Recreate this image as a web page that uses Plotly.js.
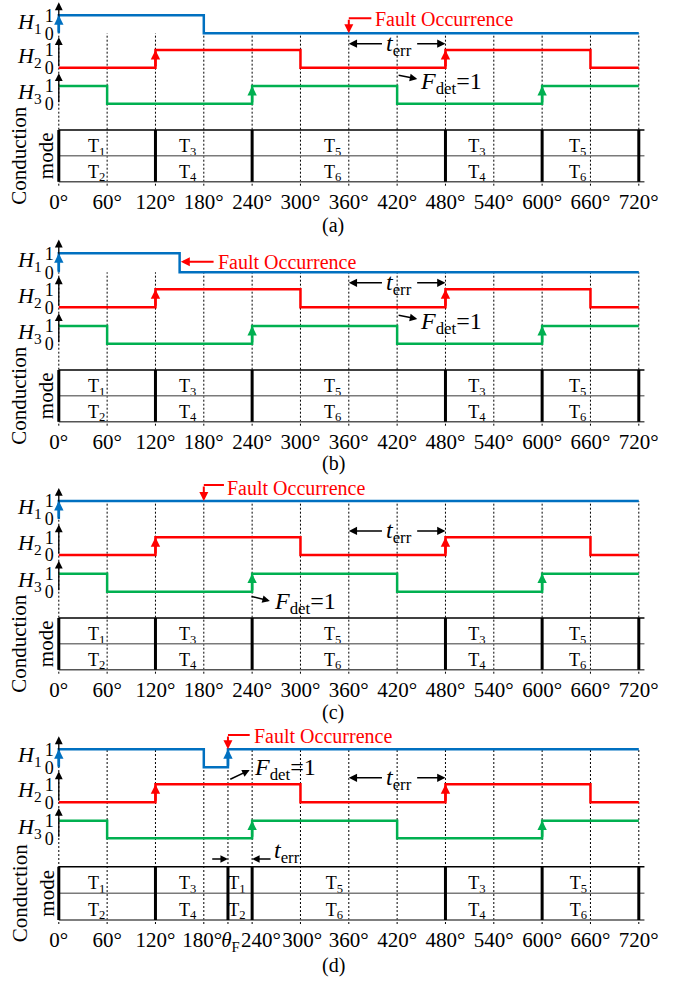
<!DOCTYPE html>
<html><head><meta charset="utf-8">
<script src="https://cdn.plot.ly/plotly-3.0.1.min.js"></script>
<style>html,body{margin:0;padding:0;background:#fff}#chart{width:688px;height:985px}</style>
</head><body><div id="chart"></div>
<script>
// ---------------- data ----------------
const tickAngles = [0,60,120,180,240,300,360,420,480,540,600,660,720];
const tickLabels = ['0°','60°','120°','180°','240°','300°','360°','420°','480°','540°','600°','660°','720°'];
const thetaF = 210;
const thetaFLabel = '<i>θ</i><sub>F</sub>';
const panelNames = ['(a)','(b)','(c)','(d)'];
const faultAngles = [360,150,180,210];

const h1X = [[0,0,180,720],[0,0,150,720],[0,0,720],[0,0,180,210,720]];
const h1Y = [[0,1,0,0],[0,1,0,0],[0,1,1],[0,1,0,1,1]];
const h2X = [0,120,300,480,660,720];
const h2Y = [0,1,0,1,0,0];
const h3X = [0,60,240,420,600,720];
const h3Y = [1,0,1,0,1,1];
const h1Rises = [[0],[0],[0],[0,210]];
const h2Rises = [120,480];
const h3Rises = [240,600];
const terrStart = 360, terrEnd = 480;

const modeBounds = [[0,120,240,480,600,720],[0,120,240,480,600,720],[0,120,240,480,600,720],[0,120,210,240,480,600,720]];
const modeUpper = [['1','3','5','3','5'],['1','3','5','3','5'],['1','3','5','3','5'],['1','3','1','5','3','5']];
const modeLower = [['2','4','6','4','6'],['2','4','6','4','6'],['2','4','6','4','6'],['2','4','2','6','4','6']];
const modeLabelAngle = [[47,160,340,519,644],[47,160,340,519,644],[47,160,340,519,644],[47,160,221,342,519,645]];

// ---------------- styling / geometry ----------------
const W = 688, H = 985;
const serif = 'Liberation Serif';
const cols = ['#0070C0','#FF0000','#00B050'];
const X0 = 58.8, K = 580/720;
const xr = [-5, 728];
const xDom = [(X0 + xr[0]*K)/W, (X0 + xr[1]*K)/W];
// label placement tweak for crowded ticks of panel (d) (degrees)
const dLabelShift = {180:-2, 210:3, 240:11, 300:2};
const geom = [
  {h:[[15.3,33.3],[50,67.7],[86,103.7]], tbl:[130,181.7], gridTop:33.3, lab:225},
  {h:[[253.3,272.3],[289.3,307.3],[326,343.7]], tbl:[370,421.7], gridTop:272.3, lab:463},
  {h:[[501,519],[537.3,555],[573.7,591.7]], tbl:[618,669.7], gridTop:501, lab:712},
  {h:[[749.3,767.3],[784.3,802.3],[820.7,838.3]], tbl:[866.7,920], gridTop:749.3, lab:965}
];
const faultCfg = [
  {type:'bent', yLine:0.83, headY:0, lineEnd:388, textX:390, textY:0.8},
  {type:'left', yLine:0.56, tail:194, textX:195.5, textY:0.56},
  {type:'bent', yLine:1.89, headY:1, lineEnd:205, textX:206.5, textY:1.72},
  {type:'bent', yLine:1.79, headY:1, lineEnd:237, textX:239.5, textY:1.74}
];
const fdetCfg = [
  {ax:3, tail:[420,1.62], head:[445,1.40], text:[446,1.15]},
  {ax:3, tail:[420,1.62], head:[445,1.40], text:[446,1.15]},
  {ax:3, tail:[237.4,-0.24], head:[262,-0.52], text:[264.5,-0.64]},
  {ax:2, tail:[211,1.24], head:[237,1.79], text:[239.5,1.85]}
];

function xa(p){return p===0?'x':'x'+(p+1);}
function ya(n){return n===1?'y':'y'+n;}
function axKey(id){return id[0]+'axis'+id.slice(1);}
function fy(px){return 1-px/H;}

const traces = [];
const layout = {width:W, height:H, margin:{l:0,r:0,t:0,b:0}, paper_bgcolor:'#fff',
  plot_bgcolor:'rgba(0,0,0,0)', showlegend:false, font:{family:serif,color:'#000'},
  shapes:[], annotations:[]};

function arrow(xref,yref,x,y,ax,ay,color,width,size){
  layout.annotations.push({xref:xref,yref:yref,axref:xref,ayref:yref,x:x,y:y,ax:ax,ay:ay,
    text:'',showarrow:true,arrowhead:2,arrowsize:size,arrowwidth:width,arrowcolor:color,standoff:0,startstandoff:0});
}
function label(xref,yref,x,y,text,size,color,xanchor,extra){
  layout.annotations.push(Object.assign({xref:xref,yref:yref,x:x,y:y,text:text,showarrow:false,
    xanchor:xanchor||'center',yanchor:'middle',font:{family:serif,size:size,color:color||'#000'}},extra||{}));
}

for(let p=0;p<4;p++){
  const g = geom[p];
  const xid = xa(p);
  const hy = [];
  for(let k=0;k<3;k++){
    const p1=g.h[k][0], p0=g.h[k][1], u=p0-p1;
    const top=Math.max(0.5,p1-1.2*u), bot=p0+0.9*u;
    const id=ya(4*p+k+1); hy.push(id);
    layout[axKey(id)] = {domain:[fy(bot),fy(top)], range:[(p0-bot)/u,(p0-top)/u], anchor:xid,
      tickvals:[0,1], ticktext:['0','1'], tickfont:{family:serif,size:18,color:'#000'}, ticks:'',
      showgrid:false, zeroline:false, showline:false, fixedrange:true};
  }
  const tt=g.tbl[0], tb=g.tbl[1], tu=(tb-tt)/2;
  const tid=ya(4*p+4);
  layout[axKey(tid)] = {domain:[fy(tb+0.2*tu),fy(tt-0.8*tu)], range:[-0.2,2.8], anchor:xid,
    showticklabels:false, ticks:'', showgrid:false, zeroline:false, showline:false, fixedrange:true};
  let tv = tickAngles.slice(), tx = tickLabels.slice();
  if(p===3){
    tv.splice(4,0,thetaF); tx.splice(4,0,thetaFLabel);
    tv = tv.map(a=>a+(dLabelShift[a]||0));
  }
  layout[axKey(xid)] = {domain:xDom, range:xr, anchor:tid, tickvals:tv, ticktext:tx, tickangle:0,
    tickfont:{family:serif,size:21,color:'#000'}, ticks:'', showgrid:false, zeroline:false, showline:false, fixedrange:true};

  // grid lines
  tickAngles.forEach(a=>layout.shapes.push({type:'line',layer:'below',xref:xid,yref:'paper',x0:a,x1:a,
    y0:fy(tb+4),y1:fy(g.gridTop),line:{color:'#000',width:1,dash:'2px,2px'}}));
  if(p===3) layout.shapes.push({type:'line',layer:'below',xref:xid,yref:'paper',x0:thetaF,x1:thetaF,
    y0:fy(tb+4),y1:fy(g.h[0][1]+2),line:{color:'#000',width:1,dash:'2px,2px'}});

  // signals
  const sx=[h1X[p],h2X,h3X], sy=[h1Y[p],h2Y,h3Y];
  for(let k=0;k<3;k++){
    traces.push({type:'scatter',mode:'lines',x:sx[k],y:sy[k],xaxis:xid,yaxis:hy[k],
      line:{color:cols[k],width:2.5,shape:'hv'},hoverinfo:'skip'});
  }
  for(let k=0;k<3;k++){
    arrow(xid,hy[k],0,1.72,0,0,'#000',1.3,1.2);
    label('paper',hy[k],44/W,0.6,'<i>H</i><sub>'+(k+1)+'</sub>',22,'#000','right');
  }
  h1Rises[p].forEach(a=>arrow(xid,hy[0],a,1,a,0,cols[0],2.5,0.75));
  h2Rises.forEach(a=>arrow(xid,hy[1],a,1,a,0,cols[1],2.5,0.75));
  h3Rises.forEach(a=>arrow(xid,hy[2],a,1,a,0,cols[2],2.5,0.75));

  // fault occurrence
  const fc=faultCfg[p], fa=faultAngles[p];
  if(fc.type==='bent'){
    layout.shapes.push({type:'line',xref:xid,yref:hy[0],x0:fa,x1:fc.lineEnd,y0:fc.yLine,y1:fc.yLine,line:{color:cols[1],width:2}});
    arrow(xid,hy[0],fa,fc.headY,fa,fc.yLine,cols[1],2,0.9);
  } else {
    arrow(xid,hy[0],fa+1.5,fc.yLine,fc.tail,fc.yLine,cols[1],2,0.9);
  }
  label(xid,hy[0],fc.textX,fc.textY,'Fault Occurrence',20,cols[1],'left');

  // t_err
  const ty=1.36;
  arrow(xid,hy[1],terrStart,ty,403,ty,'#000',1.5,1.1);
  arrow(xid,hy[1],terrEnd,ty,443,ty,'#000',1.5,1.1);
  label(xid,hy[1],422,1.3,'<i>t</i><sub>err</sub>',24,'#000','center');

  // F_det = 1
  const fd=fdetCfg[p];
  arrow(xid,hy[fd.ax-1],fd.head[0],fd.head[1],fd.tail[0],fd.tail[1],'#000',1.5,1.0);
  label(xid,hy[fd.ax-1],fd.text[0],fd.text[1],'<i>F</i><sub>det</sub>=1',24,'#000','left');

  // conduction mode table
  const mb=modeBounds[p];
  layout.shapes.push({type:'line',xref:xid,yref:tid,x0:0,x1:727,y0:2,y1:2,line:{color:'#000',width:1.5}});
  layout.shapes.push({type:'line',xref:xid,yref:tid,x0:0,x1:727,y0:1,y1:1,line:{color:'#7a7a7a',width:1.5}});
  layout.shapes.push({type:'line',xref:xid,yref:tid,x0:0,x1:727,y0:0,y1:0,line:{color:'#555',width:1.5}});
  mb.forEach(a=>layout.shapes.push({type:'line',xref:xid,yref:tid,x0:a,x1:a,y0:0,y1:2,line:{color:'#000',width:3}}));
  const lx=modeLabelAngle[p];
  traces.push({type:'scatter',mode:'text',xaxis:xid,yaxis:tid,
    x:lx.concat(lx), y:lx.map(()=>1.33).concat(lx.map(()=>0.33)),
    text:modeUpper[p].map(n=>'T<sub>'+n+'</sub>').concat(modeLower[p].map(n=>'T<sub>'+n+'</sub>')),
    textfont:{family:serif,size:18,color:'#000'},textposition:'middle center',hoverinfo:'skip',cliponaxis:false});
  label('paper',tid,33/W,1,'Conduction<br>mode',21,'#000','center',{textangle:-90});

  label('paper','paper',333/W,fy(g.lab),panelNames[p],20,'#000','center');

  if(p===3){
    arrow(xid,tid,thetaF,2.29,188.6,2.29,'#000',1.5,1.0);
    arrow(xid,tid,240,2.29,264.7,2.29,'#000',1.5,1.0);
    label(xid,tid,265,2.55,'<i>t</i><sub>err</sub>',24,'#000','left');
  }
}

Plotly.newPlot('chart', traces, layout, {staticPlot:true, displayModeBar:false});
</script>
</body></html>
